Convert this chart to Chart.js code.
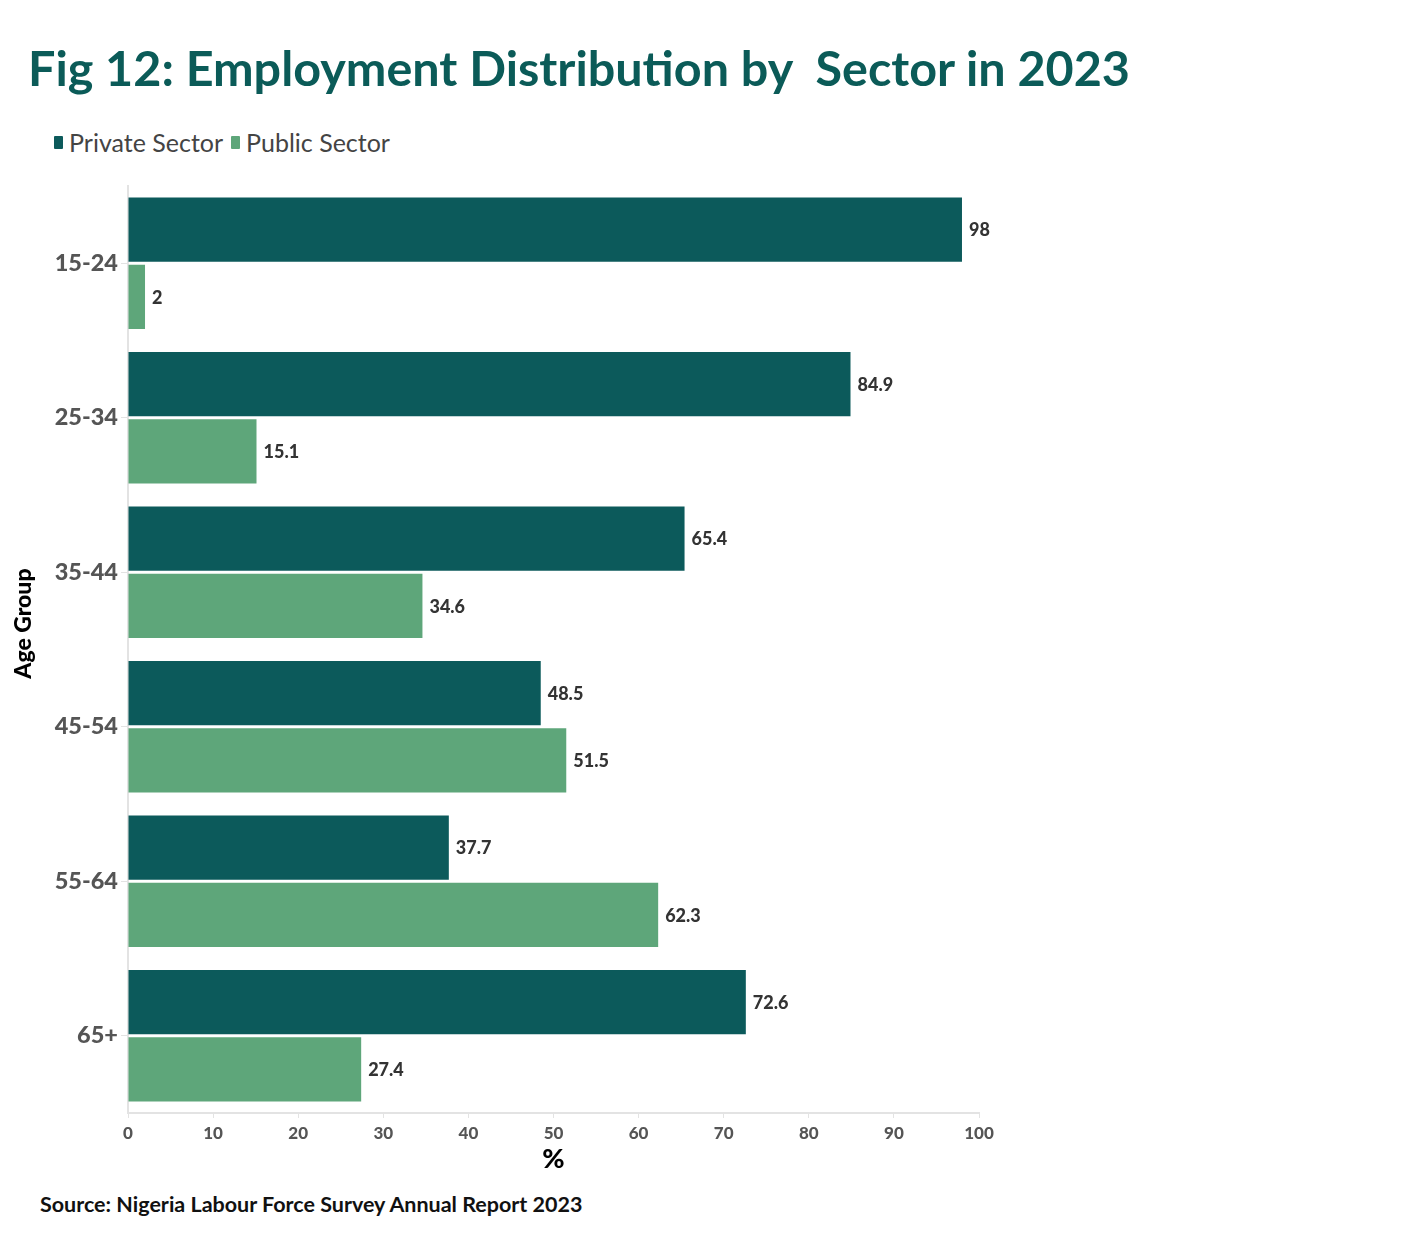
<!DOCTYPE html>
<html>
<head>
<meta charset="utf-8">
<script src="https://cdn.jsdelivr.net/npm/chart.js@4.4.1/dist/chart.umd.min.js"></script>
<style>
    body {margin: 0; background: #fff; width: 1428px; height: 1234px; position: relative; overflow: hidden; font-family: Lato, 'Noto Sans', sans-serif;}
    #title {position: absolute; left: 28px; top: 38px; font-size: 48.5px; font-weight: 700; color: #0b5b58; white-space: pre;}
    #legend {position: absolute; left: 54px; top: 127px; font-size: 25px; color: #444; display: flex; align-items: center;}
    #legend span.box {display: inline-block; width: 9px; height: 13px; margin-right: 6px; border-radius: 1px;}
    #legend span.lbl {margin-right: 8px;}
    #source {position: absolute; left: 40px; top: 1191px; font-size: 21.5px; font-weight: 700; color: #111;}
    #wrap {position: absolute; left: 0; top: 167px; width: 1000px; height: 1012px;}
</style>
</head>
<body>
<div id="title">Fig 12: Employment Distribution by  Sector in 2023</div>
<div id="legend"></div>
<div id="wrap"><canvas id="chart" width="1000" height="1012"></canvas></div>
<div id="source">Source: Nigeria Labour Force Survey Annual Report 2023</div>
<script>
const ageGroups = ['15-24', '25-34', '35-44', '45-54', '55-64', '65+']
const privateSector = [98, 84.9, 65.4, 48.5, 37.7, 72.6]
const publicSector = [2, 15.1, 34.6, 51.5, 62.3, 27.4]
const seriesNames = ['Private Sector', 'Public Sector']
const seriesColors = ['#0c5a5b', '#5ea67a']
const xTicks = [0, 10, 20, 30, 40, 50, 60, 70, 80, 90, 100]

const legendEl = document.getElementById('legend')
seriesNames.forEach((name, i) => {
    legendEl.insertAdjacentHTML('beforeend',
        `<span class="box" style="background:${seriesColors[i]}"></span><span class="lbl">${name}</span>`)
})

const fontFamily = "Lato, 'Noto Sans', sans-serif"

new Chart(document.getElementById('chart'), {
    type: 'bar',
    data: {
        labels: ageGroups,
        datasets: [privateSector, publicSector].map((data, i) => ({
            label: seriesNames[i],
            data,
            backgroundColor: seriesColors[i],
            borderWidth: 0,
            categoryPercentage: 0.87,
            barPercentage: 0.955,
        })),
    },
    options: {
        indexAxis: 'y',
        responsive: false,
        animation: false,
        layout: {padding: {top: 19, right: 21, bottom: 0, left: 0}},
        plugins: {
            legend: {display: false},
            tooltip: {enabled: false},
        },
        scales: {
            x: {
                min: 0,
                max: 100,
                afterBuildTicks: axis => { axis.ticks = xTicks.map(v => ({value: v})) },
                afterFit: axis => { axis.height = 66 },
                grid: {drawOnChartArea: false, color: '#e3e3e3', tickLength: 5},
                border: {color: '#e3e3e3', width: 2},
                ticks: {color: '#555', font: {family: fontFamily, size: 17, weight: 900}, padding: 5},
                title: {display: true, text: '%', color: '#000', font: {family: fontFamily, size: 27, weight: 900}, padding: {top: 4, bottom: 4}},
            },
            y: {
                afterFit: axis => { axis.width = 128 },
                grid: {drawOnChartArea: false, offset: false, color: '#e3e3e3', tickLength: 7},
                border: {color: '#e3e3e3', width: 2},
                ticks: {color: '#555', font: {family: fontFamily, size: 23.5, weight: 900}, padding: 3},
                title: {display: true, text: '\u2003\u2003\u2003Age Group', color: '#000', font: {family: fontFamily, size: 23, weight: 900}, padding: {top: 10, bottom: 0}},
            },
        },
    },
    plugins: [{
        id: 'bar-value-labels',
        afterDatasetsDraw(chart) {
            const {ctx} = chart
            ctx.save()
            ctx.fillStyle = '#333'
            ctx.font = `900 18px ${fontFamily}`
            ctx.textAlign = 'left'
            ctx.textBaseline = 'middle'
            chart.data.datasets.forEach((ds, di) => {
                chart.getDatasetMeta(di).data.forEach((bar, i) => {
                    ctx.fillText(String(ds.data[i]), bar.x + 7, bar.y + 1)
                })
            })
            ctx.restore()
        },
    }],
})
</script>
</body>
</html>
